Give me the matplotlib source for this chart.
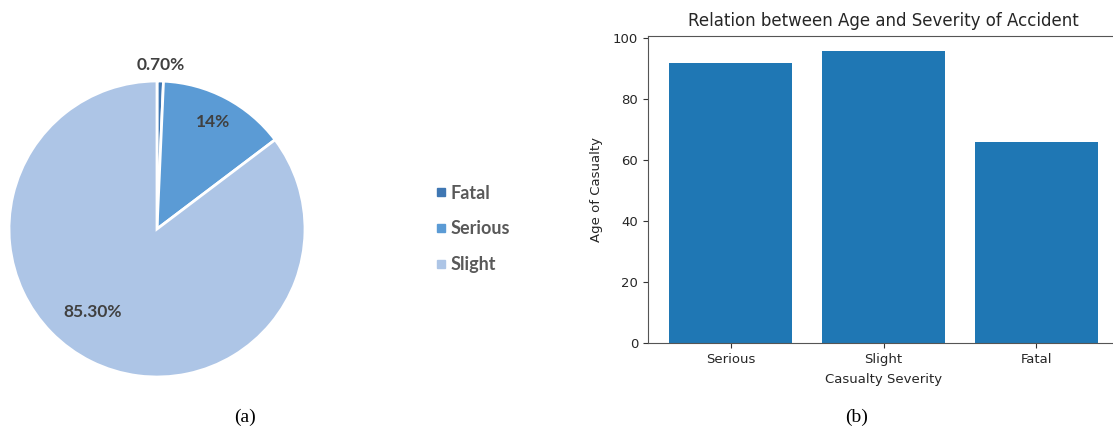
import numpy as np
import matplotlib
matplotlib.use("Agg")
import matplotlib.pyplot as plt
from matplotlib.lines import Line2D

# Share of casualties by severity
pie_labels = ["Fatal", "Serious", "Slight"]
pie_values = [0.70, 14.0, 85.30]
pie_text = ["0.70%", "14%", "85.30%"]
pie_colors = ["#3f77b3", "#5b9bd5", "#adc5e6"]

# Maximum age of casualty by severity
bar_categories = ["Serious", "Slight", "Fatal"]
bar_values = [92, 96, 66]

W, H = 1113, 429
fig = plt.figure(figsize=(W / 100, H / 100), dpi=100)

def frac_box(x0, y0, x1, y1):
    return [x0 / W, 1 - y1 / H, (x1 - x0) / W, (y1 - y0) / H]

# ---- pie chart ----
cx, cy, r = 157, 229, 148
axp = fig.add_axes(frac_box(cx - r, cy - r, cx + r, cy + r))
wedges, _ = axp.pie(pie_values, colors=pie_colors, startangle=90,
                    counterclock=False,
                    wedgeprops=dict(edgecolor="white", linewidth=2))
axp.set_xlim(-1, 1)
axp.set_ylim(-1, 1)
axp.set_aspect("equal")

label_font = ["Lato", "DejaVu Sans"]
# radial distance and angular shift of each data label
radii = [1.11, 0.82, 0.71]
shifts = [0.0, 0.0, -11.0]
total = sum(pie_values)
start = 90.0
for v, t, rr, sh in zip(pie_values, pie_text, radii, shifts):
    sweep = 360.0 * v / total
    mid = np.deg2rad(start - sweep / 2 + sh)
    start -= sweep
    axp.text(rr * np.cos(mid), rr * np.sin(mid), t, ha="center", va="center",
             fontsize=12.5, fontweight="bold", color="#404040",
             family=label_font, clip_on=False)

handles = [Line2D([], [], marker="s", linestyle="none", markersize=6,
                  markerfacecolor=c, markeredgecolor=c) for c in pie_colors]
fig.legend(handles, pie_labels, loc="center left",
           bbox_to_anchor=(418 / W, 1 - 229 / H), frameon=False,
           prop=dict(family=label_font, weight="bold", size=13),
           labelcolor="#595959", handletextpad=0.1, labelspacing=1.05,
           handlelength=0.8)

# ---- bar chart ----
axb = fig.add_axes(frac_box(648, 36, 1119, 343))
axb.bar(bar_categories, bar_values, color="#1f77b4", width=0.8)
axb.set_xlim(-0.54, 2.54)
axb.set_ylim(0, max(bar_values) * 1.05)
axb.set_yticks([0, 20, 40, 60, 80, 100])
axb.set_title("Relation between Age and Severity of Accident",
              fontsize=12, color="#262626", pad=7)
axb.set_xlabel("Casualty Severity", fontsize=9.5, color="#262626", labelpad=5)
axb.set_ylabel("Age of Casualty", fontsize=9.5, color="#262626", labelpad=7)
axb.tick_params(labelsize=9.5, colors="#333333", labelcolor="#262626")
for s in axb.spines.values():
    s.set_color("#555555")

# ---- sub-figure captions ----
serif = ["Liberation Serif", "DejaVu Serif"]
fig.text(245 / W, 1 - 417 / H, "(a)", ha="center", va="center",
         fontsize=14, family=serif)
fig.text(857 / W, 1 - 417 / H, "(b)", ha="center", va="center",
         fontsize=14, family=serif)

fig.savefig("out.png", dpi=100)
